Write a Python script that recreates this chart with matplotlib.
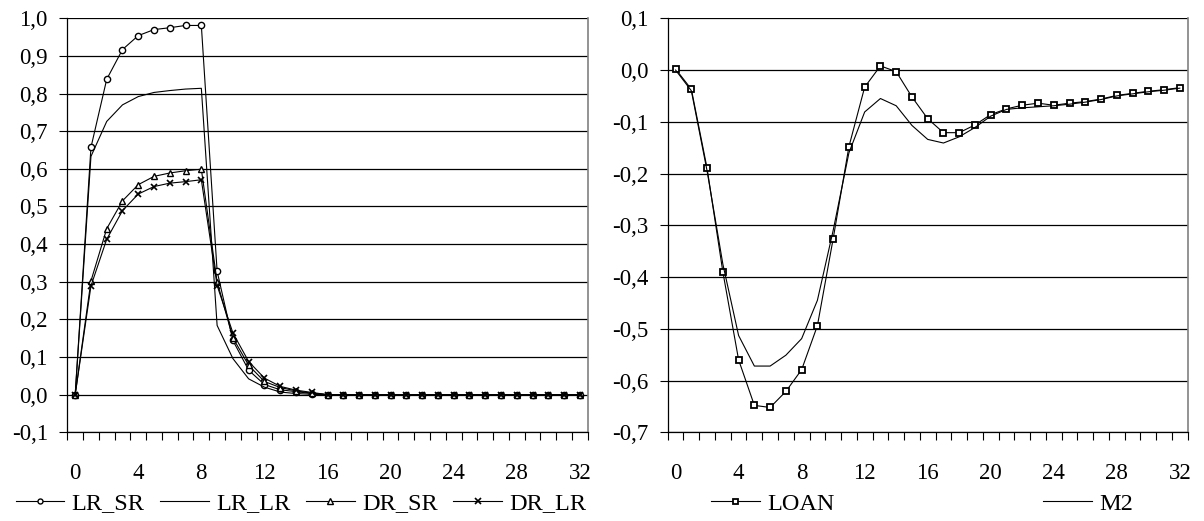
import numpy as np
import matplotlib
matplotlib.use('Agg')
import matplotlib.pyplot as plt
from matplotlib.ticker import FuncFormatter, FixedLocator

plt.rcParams['font.family'] = ['Liberation Serif', 'DejaVu Serif']

periods = list(range(33))

lr_sr = [0.0, 0.657, 0.838, 0.917, 0.954, 0.970, 0.975, 0.981, 0.981, 0.328, 0.144,
         0.065, 0.027, 0.013, 0.008, 0.003, 0.0, 0.0, 0.0, 0.0, 0.0, 0.0, 0.0, 0.0,
         0.0, 0.0, 0.0, 0.0, 0.0, 0.0, 0.0, 0.0, 0.0]
lr_lr = [0.0, 0.633, 0.726, 0.770, 0.792, 0.803, 0.808, 0.812, 0.814, 0.184, 0.096,
         0.042, 0.020, 0.007, 0.003, 0.001, 0.0, 0.0, 0.0, 0.0, 0.0, 0.0, 0.0, 0.0,
         0.0, 0.0, 0.0, 0.0, 0.0, 0.0, 0.0, 0.0, 0.0]
dr_sr = [0.0, 0.302, 0.441, 0.515, 0.558, 0.580, 0.589, 0.595, 0.599, 0.300, 0.151,
         0.078, 0.035, 0.019, 0.010, 0.004, 0.0, 0.0, 0.0, 0.0, 0.0, 0.0, 0.0, 0.0,
         0.0, 0.0, 0.0, 0.0, 0.0, 0.0, 0.0, 0.0, 0.0]
dr_lr = [0.0, 0.289, 0.413, 0.489, 0.533, 0.553, 0.562, 0.566, 0.571, 0.290, 0.164,
         0.088, 0.044, 0.022, 0.012, 0.006, 0.0, 0.0, 0.0, 0.0, 0.0, 0.0, 0.0, 0.0,
         0.0, 0.0, 0.0, 0.0, 0.0, 0.0, 0.0, 0.0, 0.0]

loan = [0.002, -0.037, -0.190, -0.390, -0.560, -0.648, -0.652, -0.621, -0.579, -0.494,
        -0.326, -0.148, -0.033, 0.008, -0.003, -0.052, -0.094, -0.121, -0.121, -0.106,
        -0.086, -0.075, -0.068, -0.064, -0.068, -0.064, -0.061, -0.056, -0.049, -0.045,
        -0.041, -0.038, -0.034]
m2 = [0.0, -0.040, -0.195, -0.375, -0.513, -0.572, -0.572, -0.551, -0.519, -0.445,
      -0.310, -0.160, -0.081, -0.055, -0.069, -0.107, -0.134, -0.141, -0.129, -0.111,
      -0.089, -0.076, -0.073, -0.071, -0.069, -0.066, -0.062, -0.057, -0.050, -0.046,
      -0.042, -0.039, -0.035]

W, H = 1204, 521
fig = plt.figure(figsize=(W / 100, H / 100), dpi=100)

ax1 = fig.add_axes([67.3 / W, 1 - 432.3 / H, (587.7 - 67.3) / W, (432.3 - 18.3) / H])
ax2 = fig.add_axes([667.7 / W, 1 - 432.3 / H, (1187.7 - 667.7) / W, (432.3 - 18.3) / H])

comma = FuncFormatter(lambda v, p: ('%.1f' % v).replace('.', ',').replace('-0,0', '0,0'))


def style(ax, ymin, ymax):
    ax.set_xlim(-0.5, 32.5)
    ax.set_ylim(ymin, ymax)
    yt = np.round(np.arange(ymin, ymax + 0.001, 0.1), 2)
    ax.set_yticks(yt)
    ax.yaxis.set_major_formatter(comma)
    ax.set_xticks(range(0, 33, 4))
    ax.xaxis.set_minor_locator(FixedLocator(np.arange(-0.5, 33, 1)))
    ax.tick_params(axis='x', which='major', length=0, pad=22, labelsize=16.5)
    ax.tick_params(axis='x', which='minor', length=6, width=0.8, direction='out')
    ax.tick_params(axis='y', length=6, width=0.8, pad=8, labelsize=16.5)
    for y in yt:
        ax.axhline(y, color='black', lw=0.9, zorder=1)
    ax.spines['top'].set_visible(False)
    ax.spines['right'].set_color('#808080')
    ax.spines['right'].set_linewidth(1.2)
    ax.spines['left'].set_linewidth(0.9)
    ax.spines['bottom'].set_linewidth(0.9)


style(ax1, -0.1, 1.0)
style(ax2, -0.7, 0.1)

kw = dict(color='black', lw=0.8, zorder=3)
ax1.plot(periods, lr_sr, marker='o', ms=4.5, mfc='white', mec='black', mew=1.0, label='LR_SR', **kw)
ax1.plot(periods, lr_lr, label='LR_LR', **kw)
ax1.plot(periods, dr_sr, marker='^', ms=5, mfc='white', mec='black', mew=1.0, label='DR_SR', **kw)
ax1.plot(periods, dr_lr, marker='x', ms=5, mec='black', mew=1.2, label='DR_LR', **kw)

ax2.plot(periods, loan, marker='s', ms=4.5, mfc='white', mec='black', mew=1.3, label='LOAN', **kw)
ax2.plot(periods, m2, label='M2', **kw)

leg_kw = dict(frameon=False, fontsize=17.5, handlelength=2.0, handletextpad=0.3,
              borderpad=0, borderaxespad=0, markerscale=0.8)
h1, l1 = ax1.get_legend_handles_labels()
fig.legend(h1, l1, loc='center', bbox_to_anchor=(301 / W, 1 - 503.5 / H), ncol=4,
           columnspacing=0.65, **leg_kw)
h2, l2 = ax2.get_legend_handles_labels()
fig.legend(h2, l2, loc='center', bbox_to_anchor=(922 / W, 1 - 503.5 / H), ncol=2,
           columnspacing=8.6, **leg_kw)

fig.savefig('out.png', dpi=100)
